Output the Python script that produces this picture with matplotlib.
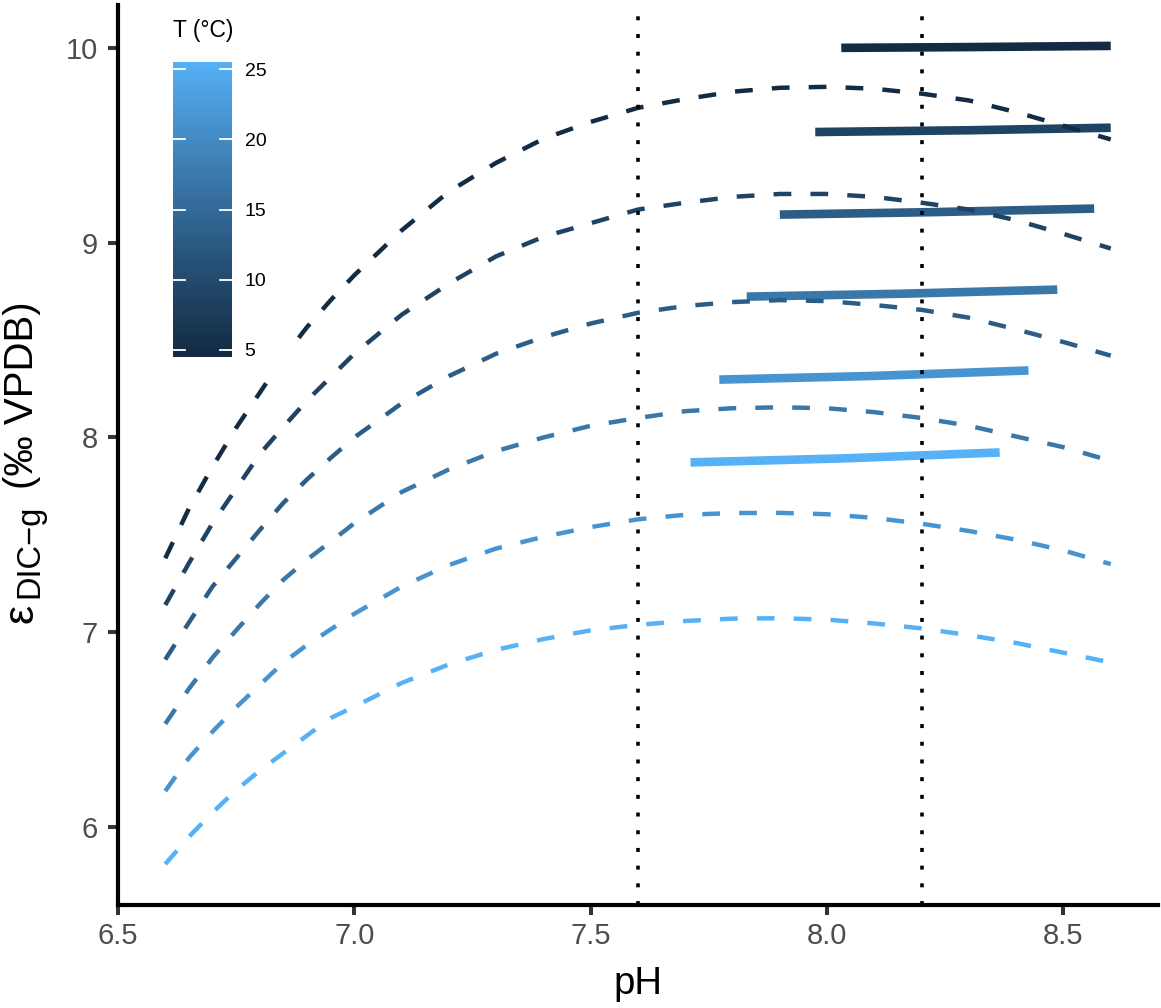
import numpy as np
import matplotlib
matplotlib.use('Agg')
import matplotlib.pyplot as plt
from matplotlib.colors import LinearSegmentedColormap

# ---------------- data ----------------
temps = [5, 9, 13, 17, 21, 25]

ph_grid = [6.6, 6.65, 6.7, 6.75, 6.8, 6.85, 6.9, 6.95, 7.0, 7.1, 7.2, 7.3, 7.4,
           7.5, 7.6, 7.7, 7.8, 7.9, 8.0, 8.1, 8.2, 8.3, 8.4, 8.5, 8.6]

eps_T5 = [7.38, 7.635, 7.85, 8.05, 8.23, 8.41, 8.567, 8.705, 8.833, 9.063, 9.262, 9.41, 9.533,
          9.62, 9.692, 9.737, 9.775, 9.795, 9.80, 9.79, 9.765, 9.73, 9.67, 9.60, 9.53]
eps_T9 = [7.14, 7.355, 7.56, 7.737, 7.915, 8.055, 8.19, 8.31, 8.43, 8.63, 8.79, 8.93, 9.03,
          9.10, 9.17, 9.205, 9.235, 9.25, 9.25, 9.235, 9.205, 9.17, 9.115, 9.045, 8.97]
eps_T13 = [6.86, 7.05, 7.235, 7.38, 7.525, 7.665, 7.785, 7.895, 8.0, 8.175, 8.315, 8.43, 8.515,
           8.585, 8.64, 8.675, 8.695, 8.705, 8.70, 8.68, 8.655, 8.615, 8.555, 8.49, 8.42]
eps_T17 = [6.53, 6.71, 6.87, 7.01, 7.145, 7.27, 7.373, 7.465, 7.56, 7.72, 7.836, 7.93, 8.00,
           8.06, 8.10, 8.135, 8.15, 8.155, 8.15, 8.13, 8.10, 8.06, 8.005, 7.95, 7.88]
eps_T21 = [6.185, 6.355, 6.49, 6.615, 6.73, 6.845, 6.935, 7.015, 7.095, 7.235, 7.345, 7.43, 7.49,
           7.54, 7.58, 7.603, 7.612, 7.613, 7.606, 7.587, 7.557, 7.52, 7.475, 7.42, 7.35]
eps_T25 = [5.81, 5.95, 6.075, 6.19, 6.29, 6.38, 6.47, 6.56, 6.618, 6.74, 6.835, 6.91, 6.965,
           7.01, 7.038, 7.058, 7.07, 7.072, 7.065, 7.045, 7.02, 6.985, 6.945, 6.895, 6.845]
dashed_curves = [eps_T5, eps_T9, eps_T13, eps_T17, eps_T21, eps_T25]

# solid segments (pH, value) per temperature
solid_ph = [[8.03, 8.30, 8.60],
            [7.975, 8.30, 8.60],
            [7.90, 8.23, 8.565],
            [7.83, 8.16, 8.487],
            [7.772, 8.10, 8.426],
            [7.711, 8.04, 8.365]]
solid_eps = [[10.0, 10.004, 10.01],
             [9.568, 9.577, 9.59],
             [9.144, 9.157, 9.175],
             [8.723, 8.738, 8.759],
             [8.297, 8.316, 8.344],
             [7.872, 7.893, 7.923]]

vlines_ph = [7.6, 8.2]
x_ticks = [6.5, 7.0, 7.5, 8.0, 8.5]
x_ticklabels = ['6.5', '7.0', '7.5', '8.0', '8.5']
y_ticks = [6, 7, 8, 9, 10]
cbar_ticks = [5, 10, 15, 20, 25]

# ---------------- colours (ggplot2 default gradient, Lab interpolation) ----------------
def _hex(h):
    return np.array([int(h[i:i + 2], 16) for i in (1, 3, 5)]) / 255.0

_M = np.array([[0.4124564, 0.3575761, 0.1804375],
               [0.2126729, 0.7151522, 0.0721750],
               [0.0193339, 0.1191920, 0.9503041]])
_WP = np.array([0.95047, 1.0, 1.08883])

def rgb2lab(c):
    c = np.where(c > 0.04045, ((c + 0.055) / 1.055) ** 2.4, c / 12.92)
    xyz = _M @ c / _WP
    f = np.where(xyz > 0.008856, np.cbrt(xyz), 7.787 * xyz + 16 / 116)
    return np.array([116 * f[1] - 16, 500 * (f[0] - f[1]), 200 * (f[1] - f[2])])

def lab2rgb(lab):
    fy = (lab[0] + 16) / 116
    fx = fy + lab[1] / 500
    fz = fy - lab[2] / 200
    f = np.array([fx, fy, fz])
    xyz = np.where(f ** 3 > 0.008856, f ** 3, (f - 16 / 116) / 7.787) * _WP
    c = np.linalg.solve(_M, xyz)
    c = np.where(c > 0.0031308, 1.055 * np.clip(c, 0, None) ** (1 / 2.4) - 0.055, 12.92 * c)
    return np.clip(c, 0, 1)

lab_lo, lab_hi = rgb2lab(_hex('#132B43')), rgb2lab(_hex('#56B1F7'))
cols = [lab2rgb(lab_lo + t * (lab_hi - lab_lo)) for t in np.linspace(0, 1, 256)]
cmap = LinearSegmentedColormap.from_list('gg', cols)
tmin, tmax = min(temps), max(temps)

def tcol(t):
    return cmap((t - tmin) / (tmax - tmin))

# ---------------- figure ----------------
plt.rcParams['font.family'] = ['Liberation Sans', 'DejaVu Sans']

W, H = 1161, 1008
fig = plt.figure(figsize=(W / 100, H / 100), dpi=100)
L, R, T, B = 118, 1158, 5, 905
ax = fig.add_axes([L / W, 1 - B / H, (R - L) / W, (B - T) / H])

for t, (px, py) in zip(temps, zip(solid_ph, solid_eps)):
    ax.plot(px, py, color=tcol(t), lw=6.2, solid_capstyle='butt', zorder=2)

for t, ys in zip(temps, dashed_curves):
    ax.plot(ph_grid, ys, color=tcol(t), lw=3.2, dashes=(4, 4.3), dash_capstyle='butt', zorder=3)

for v in vlines_ph:
    ax.axvline(v, color='black', lw=2.6, dashes=(1.1, 3.8), dash_capstyle='butt', zorder=4)

all_y = [v for c in dashed_curves for v in c] + [v for c in solid_eps for v in c]
ymin, ymax = min(all_y), max(all_y)
rng = ymax - ymin
ax.set_xlim(6.5, 8.7)
ax.set_ylim(ymin - 0.05 * rng, ymax + 0.05 * rng)

ax.set_xticks(x_ticks)
ax.set_xticklabels(x_ticklabels)
ax.set_yticks(y_ticks)
for s in ['top', 'right']:
    ax.spines[s].set_visible(False)
for s in ['left', 'bottom']:
    ax.spines[s].set_linewidth(3.0)
    ax.spines[s].set_color('black')
ax.tick_params(axis='both', length=7.5, width=2.9, color='#333333', labelcolor='#4D4D4D',
               labelsize=21)
ax.tick_params(axis='x', pad=4.5)
ax.tick_params(axis='y', pad=7)

fig.text(638 / W, 1 - 984 / H, 'pH', ha='center', va='center', fontsize=27.5, color='black')

# y-axis title built from pieces (rotated, reading bottom to top)
def ytxt(s, ypix, xbase, size):
    fig.text(xbase / W, 1 - ypix / H, s, rotation=90, rotation_mode='anchor',
             ha='left', va='baseline', fontsize=size, color='black')

ytxt('ε', 623, 33, 31)
ytxt('DIC−g', 598, 38, 23.5)
ytxt('(‰ VPDB)', 489, 33, 29)

# ---------------- legend (colour bar) ----------------
lbox = fig.add_axes([150 / W, 1 - 372 / H, 140 / W, 360 / H])
lbox.set_facecolor('white')
lbox.set_xticks([])
lbox.set_yticks([])
for s in lbox.spines.values():
    s.set_visible(False)

fig.text(173 / W, 1 - 31 / H, 'T (°C)', ha='left', va='center', fontsize=16.5, color='black')

cax = fig.add_axes([173 / W, 1 - 357 / H, 59 / W, 295 / H])
half = (tmax - tmin) / 20 / 2
grad = np.linspace(tmin, tmax, 300).reshape(-1, 1)
cax.imshow(grad, cmap=cmap, vmin=tmin, vmax=tmax, origin='lower', aspect='auto',
           extent=[0, 1, tmin - half, tmax + half])
cax.set_xlim(0, 1)
cax.set_ylim(tmin - half, tmax + half)
for tk in cbar_ticks:
    cax.plot([0, 0.2], [tk, tk], color='white', lw=1.3)
    cax.plot([0.8, 1], [tk, tk], color='white', lw=1.3)
cax.set_xticks([])
cax.set_yticks(cbar_ticks)
cax.yaxis.tick_right()
cax.tick_params(axis='y', length=0, labelsize=14, labelcolor='black', pad=9)
for s in cax.spines.values():
    s.set_visible(False)

fig.savefig('out.png', dpi=100, facecolor='white')
